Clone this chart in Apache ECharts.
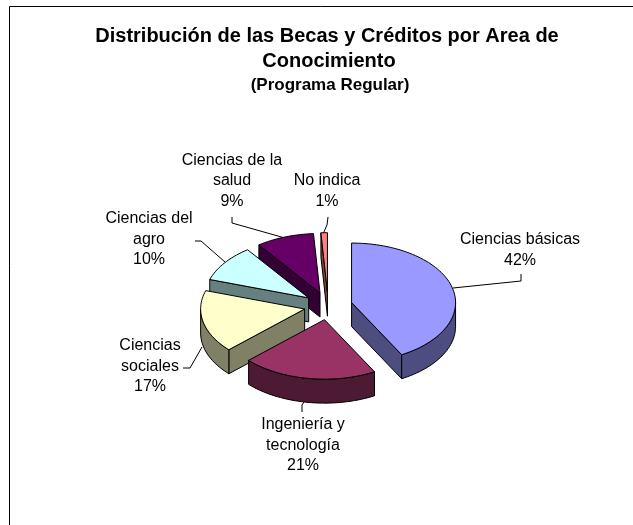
<!DOCTYPE html>
<html><head><meta charset="utf-8">
<style>html,body{margin:0;padding:0;background:#fff}#c{width:633px;height:525px}</style>
<script src="https://cdn.jsdelivr.net/npm/echarts@6/dist/echarts.min.js"></script>
</head><body><div id="c"></div>
<script>
const categories = ['Ciencias básicas','Ingeniería y tecnología','Ciencias sociales','Ciencias del agro','Ciencias de la salud','No indica'];
const values = [42,21,17,10,9,1];
const labelLines = [['Ciencias básicas','42%'],['Ingeniería y','tecnología','21%'],['Ciencias','sociales','17%'],['Ciencias del','agro','10%'],['Ciencias de la','salud','9%'],['No indica','1%']];
const topColors = ['#9999FF','#993366','#FFFFCC','#CCFFFF','#660066','#FF8080'];
const sideColors = ['#4D4D80','#4D1A33','#808066','#668080','#330033','#804040'];
const labelCentres = [[520,240],[303,425],[150,346],[149,219],[232,160.5],[327,181]];
const leaders = [
  [[453,288],[521,281],[521,274]],
  [[304,402],[302,405],[302,412]],
  [[202,347],[190,368],[183,368]],
  [[225,262],[201,241],[195,241]],
  [[285,238],[232,223],[232,217]],
  [[323,234],[327,225],[328,217]]
];
const PIE = {cx:328.2, cy:306, rx:104, ry:59.5, depth:24, explode:0.232};
const TOTAL = values.reduce((a,b)=>a+b,0);
const drawOrder = [4,5,3,0,2,1];
const rad = d => d*Math.PI/180;
const starts = []; { let s=0; values.forEach(v=>{starts.push(s); s+=v/TOTAL*360;}); }

function pt(a,t){ return [a[0]+PIE.rx*Math.sin(rad(t)), a[1]-PIE.ry*Math.cos(rad(t))]; }
function arc(a,t0,t1){ const n=Math.max(2,Math.ceil((t1-t0)/2)),r=[]; for(let i=0;i<=n;i++) r.push(pt(a,t0+(t1-t0)*i/n)); return r; }
const down = (p,d)=>[p[0],p[1]+d];
const stroke = {stroke:'#000',lineWidth:1,lineJoin:'round'};

function renderItem(params, api){
  const i = api.value(0), v = api.value(1);
  const t0 = starts[i], t1 = t0+v/TOTAL*360, m=(t0+t1)/2;
  const apex = [PIE.cx+PIE.explode*PIE.rx*Math.sin(rad(m)), PIE.cy-PIE.explode*PIE.ry*Math.cos(rad(m))];
  const children = [];
  const poly = (points,fill)=>children.push({type:'polygon',shape:{points},style:Object.assign({fill},stroke)});
  if (Math.sin(rad(t0))<-1e-6){ const p=pt(apex,t0); poly([apex,p,down(p,PIE.depth),down(apex,PIE.depth)],sideColors[i]); }
  if (Math.sin(rad(t1))>1e-6){ const p=pt(apex,t1); poly([apex,p,down(p,PIE.depth),down(apex,PIE.depth)],sideColors[i]); }
  const a0=Math.max(t0,90), a1=Math.min(t1,270);
  if (a1>a0){ const top=arc(apex,a0,a1); poly(top.concat(top.slice().reverse().map(p=>down(p,PIE.depth))),sideColors[i]); }
  poly([apex].concat(arc(apex,t0,t1)),topColors[i]);
  return {type:'group',children};
}

const orderedData = drawOrder.map(i=>({name:categories[i],value:[i,values[i]]}));

const graphic = [];
graphic.push({type:'polyline',shape:{points:[[9.5,525],[9.5,6.5],[633,6.5]]},style:{fill:null,stroke:'#000',lineWidth:1},silent:true});
const font='"Liberation Sans",Arial,sans-serif';
[['Distribución de las Becas y Créditos por Area de',327,36,20,'bold'],['Conocimiento',329,61,20,'bold'],['(Programa Regular)',330,85,17,'bold']].forEach(t=>{
  graphic.push({type:'text',x:t[1],y:t[2],style:{text:t[0],font:t[4]+' '+t[3]+'px '+font,fill:'#000',textAlign:'center',textVerticalAlign:'middle'}});
});
labelLines.forEach((lines,i)=>{
  lines.forEach((s,j)=>graphic.push({type:'text',x:labelCentres[i][0],y:labelCentres[i][1]+j*20.5,style:{text:s,font:'16px '+font,fill:'#000',textAlign:'center',textVerticalAlign:'middle'}}));
  graphic.push({type:'polyline',shape:{points:leaders[i]},style:{fill:null,stroke:'#000',lineWidth:1}});
});

const chart = echarts.init(document.getElementById('c'),null,{renderer:'canvas'});
chart.setOption({
  animation:false,
  backgroundColor:'#fff',
  xAxis:{show:false,type:'value'},yAxis:{show:false,type:'value'},
  grid:{left:0,right:0,top:0,bottom:0},
  series:[{type:'custom',coordinateSystem:'none',renderItem,data:orderedData,encode:{value:[1]},z:1}],
  graphic
});
</script></body></html>
